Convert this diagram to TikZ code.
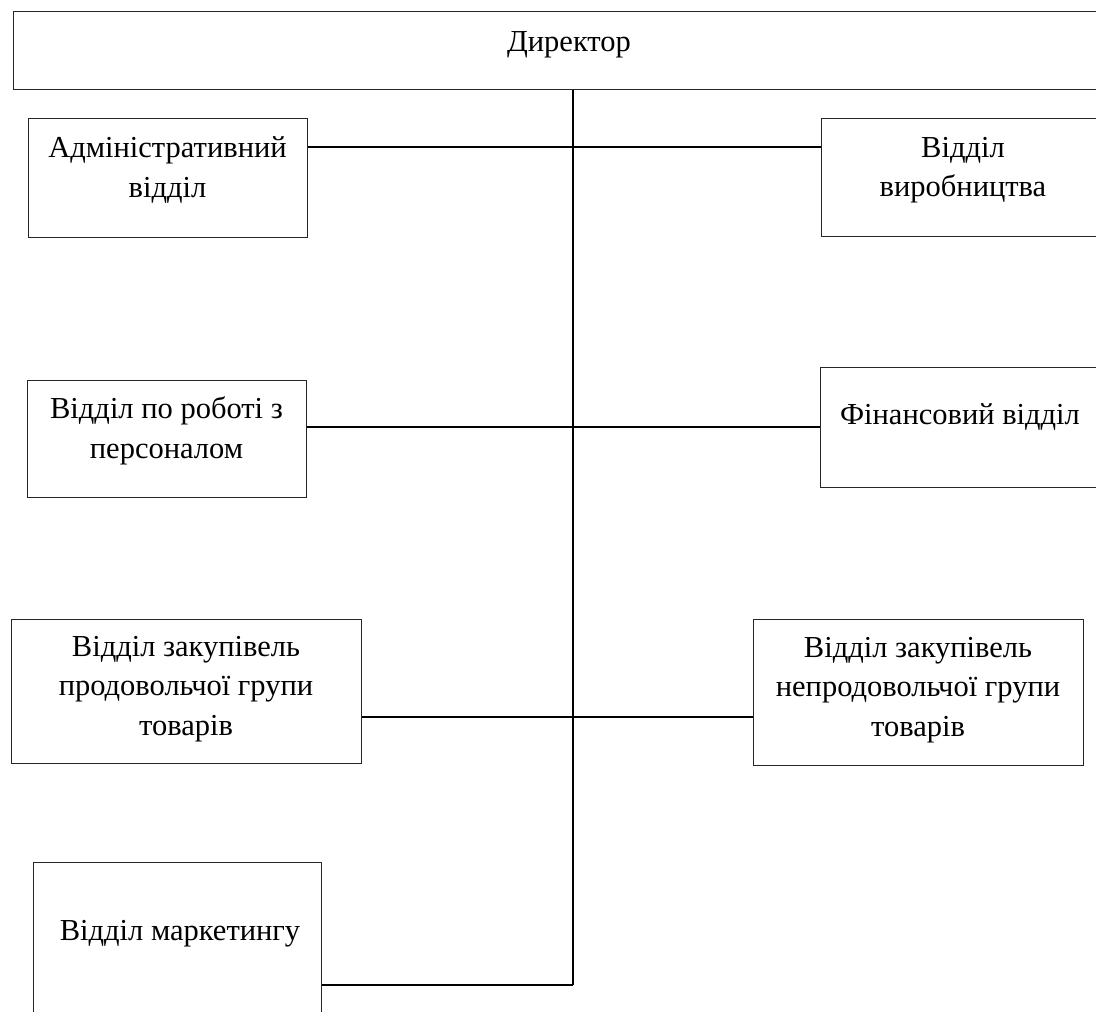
\documentclass[tikz,border=0pt]{standalone}
\usepackage{fontspec}
\setmainfont{Liberation Serif}
\usetikzlibrary{calc}
\begin{document}
\begin{tikzpicture}[x=1pt,y=-1pt,
  box/.style={draw=black!85,line width=1pt,anchor=north west,inner sep=0pt,fill=none},
  txt/.style={align=center,inner sep=0pt,font=\fontsize{30.5}{39.5}\selectfont},
  conn/.style={draw=black,line width=1.5pt}]
\clip (0,0) rectangle (1096,1012);
\fill[white] (0,0) rectangle (1096,1012);
% boxes
\node[box,minimum width=1108pt,minimum height=78pt] (dir) at (13,11) {};
\node[box,minimum width=279pt,minimum height=119pt] (adm) at (28,118) {};
\node[box,minimum width=290pt,minimum height=118pt] (vyr) at (821,118) {};
\node[box,minimum width=279pt,minimum height=117pt] (per) at (27,380) {};
\node[box,minimum width=290pt,minimum height=120pt] (fin) at (820,367) {};
\node[box,minimum width=350pt,minimum height=144pt] (zpr) at (11,619) {};
\node[box,minimum width=330pt,minimum height=146pt] (znp) at (753,619) {};
\node[box,minimum width=288pt,minimum height=200pt] (mkt) at (33,862) {};
% texts
\node[txt] (dirt) at (569,45) {Директор};
\node[txt] (admt) at (167.5,170) {Адміністративний\\відділ};
\node[txt] (vyrt) at (963,170) {Відділ\\виробництва};
\node[txt] (pert) at (166.5,431) {Відділ по роботі з\\персоналом};
\node[txt] (fint) at (960,417) {Фінансовий відділ};
\node[txt] (zprt) at (186,689) {Відділ закупівель\\продовольчої групи\\товарів};
\node[txt] (znpt) at (918,690) {Відділ закупівель\\непродовольчої групи\\товарів};
\node[txt] (mktt) at (180,934) {Відділ маркетингу};
% spine coordinates
\coordinate (sp0) at (573,89);
\coordinate (s1) at (573,147);
\coordinate (s2) at (573,427);
\coordinate (s3) at (573,717);
\coordinate (spend) at (573,985);
% connectors
\draw[conn] (dir.south -| sp0) -- (spend);
\draw[conn] (adm.east |- s1) -- (vyr.west |- s1);
\draw[conn] (per.east |- s2) -- (fin.west |- s2);
\draw[conn] (zpr.east |- s3) -- (znp.west |- s3);
\draw[conn] (mkt.east |- spend) -- (spend);
\end{tikzpicture}
\end{document}
